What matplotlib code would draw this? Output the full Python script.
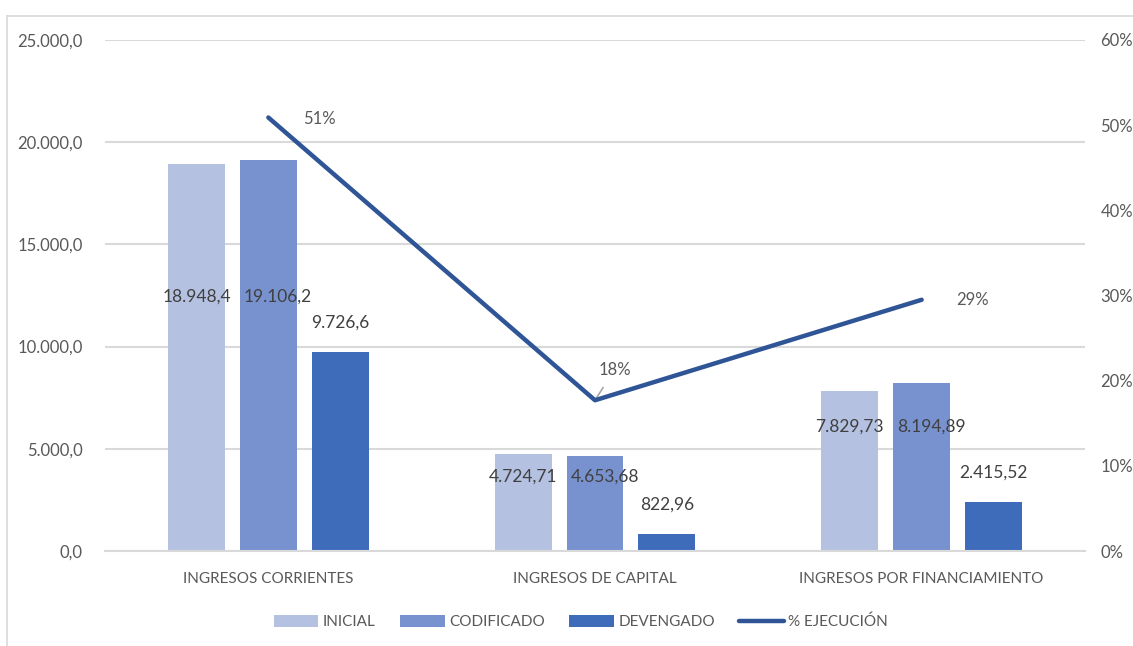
import matplotlib
matplotlib.use("Agg")
import matplotlib.pyplot as plt
from matplotlib.lines import Line2D
from matplotlib.ticker import FuncFormatter
import numpy as np

categories = ["INGRESOS CORRIENTES", "INGRESOS DE CAPITAL", "INGRESOS POR FINANCIAMIENTO"]
inicial = [18948.4, 4724.71, 7829.73]
codificado = [19106.2, 4653.68, 8194.89]
devengado = [9726.6, 822.96, 2415.52]
ejecucion = [0.509, 0.177, 0.295]
inicial_lbl = ["18.948,4", "4.724,71", "7.829,73"]
codificado_lbl = ["19.106,2", "4.653,68", "8.194,89"]
devengado_lbl = ["9.726,6", "822,96", "2.415,52"]
pct_lbl = ["51%", "18%", "29%"]
y_ticks = [0, 5000, 10000, 15000, 20000, 25000]
pct_ticks = [0, 0.1, 0.2, 0.3, 0.4, 0.5, 0.6]

# layout constants (manual label placement, as in the source)
label_y_in = [12450, 3650, 6100]

c_ini = "#B4C1E1"
c_cod = "#7892CF"
c_dev = "#3F6CBA"
c_line = "#2F5597"
grid_c = "#D9D9D9"
tick_c = "#595959"
lab_c = "#404040"

plt.rcParams['font.family'] = ['Lato', 'DejaVu Sans']

fig = plt.figure(figsize=(11.33, 6.46), dpi=100)
ax = fig.add_axes([105/1133, 95/646, 980/1133, 511/646])
ax2 = ax.twinx()

x = np.arange(len(categories))
w = 0.174
step = 0.22
ax.bar(x - step, inicial, w, color=c_ini, label="INICIAL", zorder=2)
ax.bar(x, codificado, w, color=c_cod, label="CODIFICADO", zorder=2)
ax.bar(x + step, devengado, w, color=c_dev, label="DEVENGADO", zorder=2)

ax.set_xlim(-0.5, 2.5)
ax.set_ylim(0, 25000)
ax.set_yticks(y_ticks)
ax.yaxis.set_major_formatter(FuncFormatter(lambda v, p: f"{v:,.1f}".replace(",", "X").replace(".", ",").replace("X", ".")))
ax.grid(axis='y', color=grid_c, linewidth=1.5, zorder=0)
ax.set_axisbelow(True)
for s in ["top", "right", "left"]:
    ax.spines[s].set_visible(False)
    ax2.spines[s].set_visible(False)
ax.spines["bottom"].set_color(grid_c)
ax.spines["bottom"].set_linewidth(1.5)
ax2.spines["bottom"].set_visible(False)
ax.tick_params(axis='y', length=0, colors=tick_c, labelsize=12, pad=16)
ax.tick_params(axis='x', length=0, colors=tick_c, pad=15)
ax.set_xticks(x)
ax.set_xticklabels(categories, fontsize=11)

for i in range(3):
    ax.text(x[i] - step, label_y_in[i], inicial_lbl[i], ha='center', va='center', fontsize=12.5, color=lab_c, zorder=5)
    ax.text(x[i] + 0.03, label_y_in[i], codificado_lbl[i], ha='center', va='center', fontsize=12.5, color=lab_c, zorder=5)
    ax.annotate(devengado_lbl[i], (x[i] + step, devengado[i]), xytext=(0, 21), textcoords='offset points',
                ha='center', va='center', fontsize=12.5, color=lab_c, zorder=5)

ax2.plot(x, ejecucion, color=c_line, linewidth=3.2, solid_capstyle='round', label="% EJECUCIÓN", zorder=4)
ax2.set_ylim(0, 0.6)
ax2.set_yticks(pct_ticks)
ax2.yaxis.set_major_formatter(FuncFormatter(lambda v, p: f"{v*100:.0f}%"))
ax2.tick_params(axis='y', length=0, colors=tick_c, labelsize=12, pad=11)

ax2.annotate(pct_lbl[0], (x[0], ejecucion[0]), xytext=(25, -1), textcoords='offset points',
             ha='left', va='center', fontsize=12, color=tick_c)
ax2.annotate(pct_lbl[1], (x[1], ejecucion[1]), xytext=(14, 22), textcoords='offset points',
             ha='center', va='center', fontsize=12, color=tick_c,
             arrowprops=dict(arrowstyle='-', color='#A6A6A6', lw=1.2, shrinkA=6, shrinkB=0))
ax2.annotate(pct_lbl[2], (x[2], ejecucion[2]), xytext=(25, 0), textcoords='offset points',
             ha='left', va='center', fontsize=12, color=tick_c)

h1, l1 = ax.get_legend_handles_labels()
h2, l2 = ax2.get_legend_handles_labels()
leg = fig.legend(h1 + h2, l1 + l2, loc='center', bbox_to_anchor=(581/1133, 1 - 622/646), ncol=4,
                 frameon=False, fontsize=11, handlelength=2.9, handleheight=0.9, columnspacing=1.6,
                 handletextpad=0.3, labelcolor=tick_c)

# chart border (left and top edges visible)
fig.add_artist(Line2D([7/1133, 7/1133], [0, 1 - 16/646], color=grid_c, lw=1.2, transform=fig.transFigure))
fig.add_artist(Line2D([7/1133, 1], [1 - 16/646, 1 - 16/646], color=grid_c, lw=1.2, transform=fig.transFigure))

fig.savefig("out.png", dpi=100)
